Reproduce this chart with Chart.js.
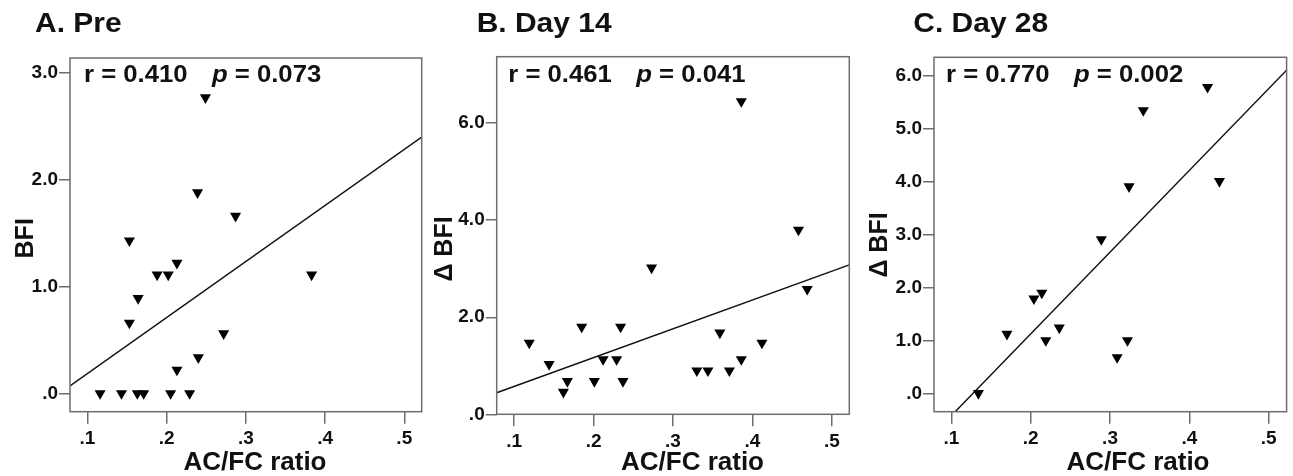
<!DOCTYPE html>
<html>
<head>
<meta charset="utf-8">
<script src="https://cdn.jsdelivr.net/npm/chart.js@4"></script>
<style>
  html, body { margin: 0; padding: 0; background: #fff; }
  #wrap { position: relative; width: 1293px; height: 476px; }
  canvas { position: absolute; top: 0; }
</style>
</head>
<body>
<div id="wrap">
  <canvas id="chartA" style="left:0px" width="430" height="476"></canvas>
  <canvas id="chartB" style="left:430px" width="430" height="476"></canvas>
  <canvas id="chartC" style="left:860px" width="433" height="476"></canvas>
</div>
<script>
// === Data ===
const xTicks = [0.1, 0.2, 0.3, 0.4, 0.5];

// A. Pre
const preRatio = [0.249, 0.239, 0.287, 0.153, 0.213, 0.188, 0.202, 0.383, 0.164, 0.153, 0.272, 0.240, 0.213, 0.116, 0.143, 0.163, 0.171, 0.205, 0.229];
const preBFI   = [2.77, 1.88, 1.66, 1.43, 1.22, 1.11, 1.11, 1.11, 0.89, 0.66, 0.56, 0.335, 0.22, 0, 0, 0, 0, 0, 0];
const preFitX  = [0.078, 0.522];
const preFitY  = [0.07, 2.40];
const preYTicks = [0, 1, 2, 3];

// B. Day 14
const d14Ratio = [0.386, 0.458, 0.273, 0.469, 0.185, 0.234, 0.359, 0.119, 0.412, 0.212, 0.229, 0.386, 0.144, 0.330, 0.344, 0.371, 0.167, 0.201, 0.237, 0.162];
const d14BFI   = [6.45, 3.80, 3.02, 2.58, 1.80, 1.80, 1.68, 1.47, 1.47, 1.13, 1.13, 1.13, 1.03, 0.90, 0.90, 0.90, 0.68, 0.68, 0.68, 0.46];
const d14FitX  = [0.078, 0.522];
const d14FitY  = [0.445, 3.08];
const d14YTicks = [0, 2, 4, 6];

// C. Day 28
const d28Ratio = [0.423, 0.342, 0.438, 0.324, 0.289, 0.214, 0.204, 0.170, 0.236, 0.219, 0.322, 0.309, 0.134];
const d28BFI   = [5.79, 5.35, 4.01, 3.91, 2.91, 1.90, 1.79, 1.12, 1.24, 1.00, 1.00, 0.68, 0];
const d28FitX  = [0.1047, 0.5227];
const d28FitY  = [-0.348, 6.11];
const d28YTicks = [0, 1, 2, 3, 4, 5, 6];

const FONT = '"Liberation Sans", Arial, Helvetica, sans-serif';
const INK = "#111";
const FRAME = "#6e6e6e";

const toPoints = (xs, ys) => xs.map((x, i) => ({ x: x, y: ys[i] }));
const fmt = v => v.toFixed(1).replace(/^0\./, ".");

// draws frame, panel title, r/p note and axis titles
const decor = {
  id: "decor",
  afterDraw(chart, args, o) {
    const { ctx, chartArea: a } = chart;
    ctx.save();
    ctx.strokeStyle = FRAME;
    ctx.lineWidth = 1.5;
    ctx.strokeRect(a.left, a.top, a.right - a.left, a.bottom - a.top);

    ctx.fillStyle = INK;
    ctx.textBaseline = "alphabetic";

    // panel title
    ctx.save();
    ctx.translate(o.titleX, 32.3);
    ctx.scale(1.07, 1);
    ctx.font = "bold 28px " + FONT;
    ctx.textAlign = "left";
    ctx.fillText(o.title, 0, 0);
    ctx.restore();

    // r = ...  p = ...
    ctx.save();
    ctx.translate(o.noteX, 81.7);
    ctx.scale(1.07, 1);
    ctx.font = "bold 24px " + FONT;
    ctx.fillText("r = " + o.r, 0, 0);
    const px = 128 / 1.07;
    ctx.font = "italic bold 24px " + FONT;
    ctx.fillText("p", px, 0);
    const pw = ctx.measureText("p").width;
    ctx.font = "bold 24px " + FONT;
    ctx.fillText(" = " + o.p, px + pw, 0);
    ctx.restore();

    // x axis title
    ctx.font = "bold 26px " + FONT;
    ctx.textAlign = "center";
    ctx.fillText("AC/FC ratio", o.xTitleX, 470);

    // y axis title
    ctx.save();
    ctx.translate(o.yTitleX, o.yTitleY);
    ctx.rotate(-Math.PI / 2);
    ctx.font = "bold 25px " + FONT;
    ctx.textAlign = "center";
    ctx.fillText(o.yLabel, 0, 0);
    ctx.restore();

    ctx.restore();
  }
};

function buildPanel(p) {
  return new Chart(document.getElementById(p.id), {
    type: "scatter",
    data: {
      datasets: [
        {
          data: toPoints(p.xs, p.ys),
          pointStyle: "triangle",
          rotation: 180,
          pointRadius: 6.4,
          pointHoverRadius: 6.4,
          backgroundColor: "#000",
          borderWidth: 0
        },
        {
          type: "line",
          data: toPoints(p.fitX, p.fitY),
          borderColor: "#111",
          borderWidth: 1.5,
          pointRadius: 0,
          fill: false
        }
      ]
    },
    options: {
      responsive: false,
      animation: false,
      events: [],
      layout: { padding: { left: 0, top: p.top, right: p.right, bottom: 0 } },
      plugins: {
        legend: { display: false },
        tooltip: { enabled: false },
        decor: p.decor
      },
      scales: {
        x: {
          type: "linear",
          min: 0.078,
          max: p.xMax,
          afterBuildTicks: s => { s.ticks = xTicks.map(v => ({ value: v })); },
          afterFit: s => { s.height = p.xAxisH; },
          grid: { drawOnChartArea: false, drawTicks: true, tickLength: 12, color: FRAME, lineWidth: 1.5 },
          border: { display: false },
          ticks: {
            callback: v => fmt(v),
            padding: 4,
            color: INK,
            maxRotation: 0,
            font: { family: FONT, size: 19, weight: "bold" }
          }
        },
        y: {
          type: "linear",
          min: p.yMin,
          max: p.yMax,
          afterBuildTicks: s => { s.ticks = p.yTicks.map(v => ({ value: v })); },
          afterFit: s => { s.width = p.yAxisW; },
          grid: { drawOnChartArea: false, drawTicks: true, tickLength: 11, color: FRAME, lineWidth: 1.5 },
          border: { display: false },
          ticks: {
            callback: v => fmt(v),
            padding: 1,
            color: INK,
            font: { family: FONT, size: 19, weight: "bold" }
          }
        }
      }
    },
    plugins: [decor]
  });
}

buildPanel({
  id: "chartA", xs: preRatio, ys: preBFI, fitX: preFitX, fitY: preFitY,
  yMin: -0.172, yMax: 3.14, yTicks: preYTicks, xMax: 0.522,
  top: 58, right: 8.3, yAxisW: 70, xAxisH: 64.3,
  decor: { title: "A. Pre", titleX: 35, noteX: 84, r: "0.410", p: "0.073",
           xTitleX: 255, yLabel: "BFI", yTitleX: 33.3, yTitleY: 238.3 }
});

buildPanel({
  id: "chartB", xs: d14Ratio, ys: d14BFI, fitX: d14FitX, fitY: d14FitY,
  yMin: 0, yMax: 7.37, yTicks: d14YTicks, xMax: 0.522,
  top: 56.7, right: 10.7, yAxisW: 66.7, xAxisH: 61.7,
  decor: { title: "B. Day 14", titleX: 46.7, noteX: 78.3, r: "0.461", p: "0.041",
           xTitleX: 262.5, yLabel: "\u0394 BFI", yTitleX: 21.7, yTitleY: 249 }
});

buildPanel({
  id: "chartC", xs: d28Ratio, ys: d28BFI, fitX: d28FitX, fitY: d28FitY,
  yMin: -0.348, yMax: 6.354, yTicks: d28YTicks, xMax: 0.5227,
  top: 57.3, right: 5.7, yAxisW: 74, xAxisH: 64.3,
  decor: { title: "C. Day 28", titleX: 53.3, noteX: 86, r: "0.770", p: "0.002",
           xTitleX: 278, yLabel: "\u0394 BFI", yTitleX: 26.7, yTitleY: 245 }
});
</script>
</body>
</html>
